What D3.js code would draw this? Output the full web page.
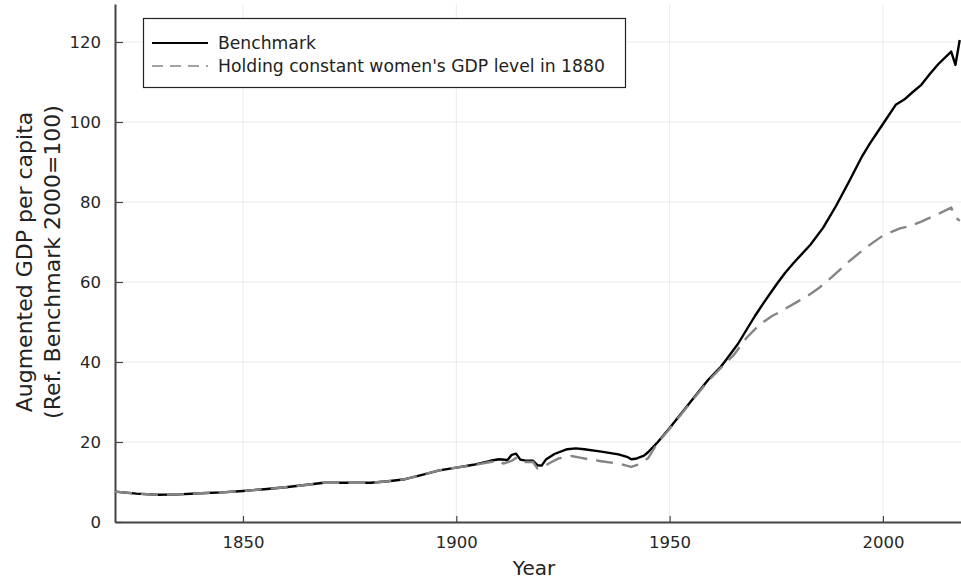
<!DOCTYPE html>
<html>
<head>
<meta charset="utf-8">
<script src="https://cdn.jsdelivr.net/npm/d3@7"></script>
<style>
  html, body { margin: 0; padding: 0; background: #fff; }
  svg { display: block; font-family: "DejaVu Sans", sans-serif; }
</style>
</head>
<body>
<svg id="chart" width="961" height="584"></svg>
<script>
// ---- data ----
const benchYears = [1820,1825,1830,1835,1840,1845,1850,1855,1860,1865,1869,1875,1880,1884,1888,1892,1896,1900,1904,1908,1910,1912,1913,1914,1915,1916,1918,1919,1920,1921,1923,1926,1928,1930,1934,1938,1940,1941,1942,1944,1945,1947,1950,1953,1956,1959,1962,1963,1966,1968,1970,1972,1975,1977,1979,1983,1986,1989,1992,1995,1997,2000,2003,2005,2007,2009,2011,2013,2016,2017,2018];
const benchValues = [7.6,7.1,6.8,6.9,7.2,7.4,7.75,8.2,8.7,9.3,9.8,9.8,9.8,10.2,10.7,11.8,12.9,13.6,14.3,15.3,15.7,15.5,16.8,17.1,15.6,15.4,15.3,14.2,14.1,15.6,17.0,18.2,18.4,18.2,17.6,16.9,16.3,15.7,15.8,16.6,17.5,19.7,23.5,27.5,31.5,35.5,38.8,40.2,44.5,48.0,51.5,54.7,59.3,62.2,64.7,69.3,73.6,79.0,85.0,91.2,94.7,99.5,104.3,105.6,107.5,109.3,112.0,114.5,117.6,114.3,120.5];

const constYears = [1820,1825,1830,1835,1840,1845,1850,1855,1860,1865,1869,1875,1880,1884,1888,1892,1896,1900,1904,1908,1910,1911,1913,1914,1915,1918,1919,1920,1922,1924,1927,1929,1931,1934,1938,1941,1943,1945,1947,1950,1953,1956,1959,1962,1965,1968,1971,1974,1976,1980,1983,1985,1988,1992,1996,2000,2004,2006,2009,2013,2016,2017,2018];
const constValues = [7.6,7.1,6.8,6.9,7.2,7.4,7.75,8.2,8.7,9.3,9.8,9.8,9.8,10.2,10.7,11.8,12.9,13.6,14.2,15.0,15.3,14.6,15.3,16.0,15.0,15.0,13.4,13.6,14.8,15.9,16.5,16.1,15.7,15.2,14.6,13.8,14.5,16.0,19.5,23.3,27.3,31.3,35.2,38.5,41.7,46.0,49.3,51.5,52.6,55.1,57.0,58.5,61.2,65.1,68.6,71.6,73.4,73.9,75.1,77.0,78.6,76.2,75.3];

const xTicks = [1850, 1900, 1950, 2000];
const yTicks = [0, 20, 40, 60, 80, 100, 120];
const seriesNames = ["Benchmark", "Holding constant women's GDP level in 1880"];
const xTitle = "Year";
const yTitleLines = ["Augmented GDP per capita", "(Ref. Benchmark 2000=100)"];

// ---- layout ----
const svg = d3.select("#chart");
const pLeft = 115, pRight = 961, pTop = 4, pBottom = 522;
const x = d3.scaleLinear().domain([1820, 2018.3]).range([pLeft, pRight]);
const y = d3.scaleLinear().domain([0, 129.5]).range([pBottom, pTop]);

// grid
const grid = svg.append("g");
grid.selectAll(".vg").data(xTicks).join("line")
  .attr("x1", d => x(d)).attr("x2", d => x(d))
  .attr("y1", pTop).attr("y2", pBottom)
  .attr("stroke", "#000").attr("stroke-opacity", 0.08).attr("stroke-width", 1);
grid.selectAll(".hg").data(yTicks.filter(d => d > 0)).join("line")
  .attr("x1", pLeft).attr("x2", pRight)
  .attr("y1", d => y(d)).attr("y2", d => y(d))
  .attr("stroke", "#000").attr("stroke-opacity", 0.08).attr("stroke-width", 1);

// axes
const xAxis = d3.axisBottom(x).tickValues(xTicks).tickFormat(d3.format("d")).tickSizeInner(-6).tickSizeOuter(0).tickPadding(14);
const yAxis = d3.axisLeft(y).tickValues(yTicks).tickSizeInner(-8).tickSizeOuter(0).tickPadding(14);

const gx = svg.append("g").attr("transform", `translate(0,${pBottom})`).call(xAxis);
const gy = svg.append("g").attr("transform", `translate(${pLeft},0)`).call(yAxis);
[gx, gy].forEach(g => {
  g.select(".domain").attr("stroke", "#444").attr("stroke-width", 2);
  g.selectAll(".tick line").attr("stroke", "#444").attr("stroke-width", 1.2);
  g.selectAll(".tick text").attr("fill", "#262626").style("font-size", "16.5px").style("font-family", "DejaVu Sans, sans-serif");
});

// lines
const line = d3.line().x(d => x(d[0])).y(d => y(d[1]));
const benchData = benchYears.map((yr, i) => [yr, benchValues[i]]);
const constData = constYears.map((yr, i) => [yr, constValues[i]]);

svg.append("path").datum(benchData).attr("d", line)
  .attr("fill", "none").attr("stroke", "#000").attr("stroke-width", 2.4).attr("stroke-linejoin", "round");
svg.append("path").datum(constData).attr("d", line)
  .attr("fill", "none").attr("stroke", "#858585").attr("stroke-width", 2.4)
  .attr("stroke-dasharray", "17,9").attr("stroke-linejoin", "round");

// axis titles
svg.append("text").attr("x", 534).attr("y", 575).attr("text-anchor", "middle")
  .style("font-size", "20px").attr("fill", "#222").text(xTitle);
const yt = svg.append("text").attr("transform", "translate(0,262) rotate(-90)")
  .attr("text-anchor", "middle").style("font-size", "22px").attr("fill", "#222");
yTitleLines.forEach((t, i) => {
  yt.append("tspan").attr("x", 0).attr("y", 32 + i * 28).text(t);
});

// legend
const lg = svg.append("g");
lg.append("rect").attr("x", 143.5).attr("y", 18.5).attr("width", 482).attr("height", 69)
  .attr("fill", "#fff").attr("stroke", "#222").attr("stroke-width", 1.2);
const legendStyles = [{c: "#000", dash: null}, {c: "#858585", dash: "11,7"}];
seriesNames.forEach((name, i) => {
  const yy = 43 + i * 23;
  lg.append("line").attr("x1", 152).attr("x2", 208).attr("y1", yy).attr("y2", yy)
    .attr("stroke", legendStyles[i].c).attr("stroke-width", i === 0 ? 2 : 1.5)
    .attr("stroke-dasharray", legendStyles[i].dash);
  lg.append("text").attr("x", 218).attr("y", yy).attr("dy", "0.35em")
    .style("font-size", "17.2px").attr("fill", "#222").text(name);
});
</script>
</body>
</html>
